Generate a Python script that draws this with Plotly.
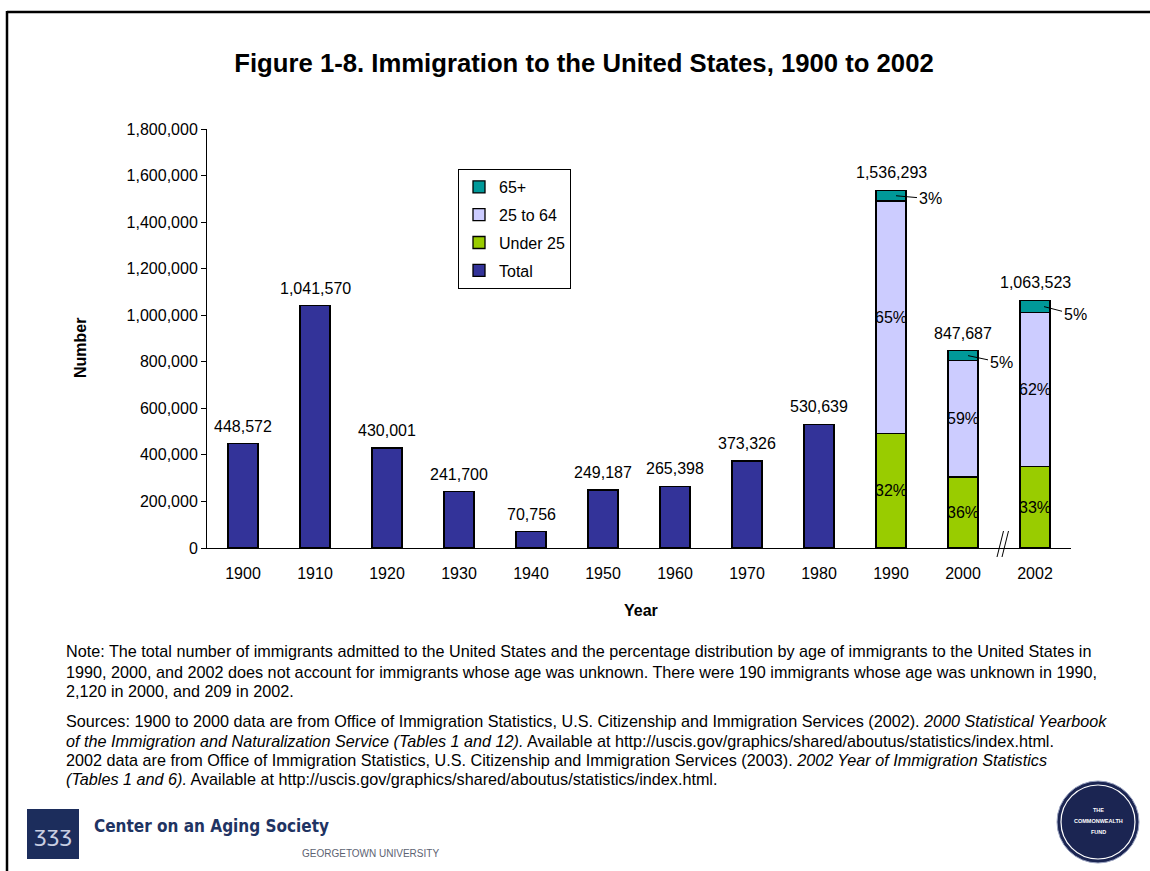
import plotly.graph_objects as go

# ---- data -------------------------------------------------------------
years = ["1900", "1910", "1920", "1930", "1940", "1950",
         "1960", "1970", "1980", "1990", "2000", "2002"]
totals = [448572, 1041570, 430001, 241700, 70756, 249187,
          265398, 373326, 530639, 1536293, 847687, 1063523]

# years with an age breakdown (percent of that year's total)
age_years = ["1990", "2000", "2002"]
pct_under25 = [32, 36, 33]
pct_25_64 = [65, 59, 62]
pct_65plus = [3, 5, 5]

y_ticks = [0, 200000, 400000, 600000, 800000, 1000000,
           1200000, 1400000, 1600000, 1800000]

# ---- page geometry (pixels) --------------------------------------------
W, H = 1150, 871
L, R, T, B = 207, 79, 129, 323
PW, PH = W - L - R, H - T - B


def px(x):
    return (x - L) / PW


def py(y):
    return (H - B - y) / PH


FONT = "Arial, Liberation Sans, sans-serif"
NARROW = "Liberation Sans Narrow, Arial Narrow, DejaVu Sans Condensed, Arial"
C_TOTAL = "#333399"
C_U25 = "#99CC00"
C_MID = "#CCCCFF"
C_65 = "#009999"
FS = 16

age_totals = [totals[years.index(y)] for y in age_years]
seg_u25 = [t * p / 100 for t, p in zip(age_totals, pct_under25)]
seg_mid = [t * p / 100 for t, p in zip(age_totals, pct_25_64)]
seg_65 = [t * p / 100 for t, p in zip(age_totals, pct_65plus)]

bar_line = dict(color="black", width=1.3)
txt_font = dict(size=FS, color="black", family=FONT)
fig = go.Figure()
fig.add_bar(x=years[:9], y=totals[:9], name="Total", legendrank=4,
            marker=dict(color=C_TOTAL, line=bar_line))
fig.add_bar(x=age_years, y=seg_u25, name="Under 25", legendrank=3,
            marker=dict(color=C_U25, line=bar_line),
            text=[f"{p}%" for p in pct_under25], textposition="inside",
            textangle=0, insidetextanchor="middle", constraintext="none",
            textfont=txt_font)
fig.add_bar(x=age_years, y=seg_mid, name="25 to 64", legendrank=2,
            marker=dict(color=C_MID, line=bar_line),
            text=[f"{p}%" for p in pct_25_64], textposition="inside",
            textangle=0, insidetextanchor="middle", constraintext="none",
            textfont=txt_font)
fig.add_bar(x=age_years, y=seg_65, name="65+", legendrank=1,
            marker=dict(color=C_65, line=bar_line), textposition="none")

# one legend group per trace so the group gap spaces the entries
for i, tr in enumerate(fig.data):
    tr.legendgroup = f"g{i}"

annotations = []

# total value above every bar
for i, tot in enumerate(totals):
    annotations.append(dict(x=i, y=tot, xref="x", yref="y", text=f"{tot:,}",
                            showarrow=False, xanchor="center", yanchor="bottom",
                            yshift=7, font=txt_font))

# 65+ shares with leader lines
leader = {"1990": (5, 34, 3), "2000": (5, 33, 7), "2002": (9, 31, 8)}
for yr, tot, p in zip(age_years, age_totals, pct_65plus):
    xs, ax, ay = leader[yr]
    annotations.append(dict(x=years.index(yr), y=tot * (1 - p / 200),
                            xref="x", yref="y", text=f"{p}%", showarrow=True,
                            arrowhead=0, arrowwidth=1, arrowcolor="black",
                            ax=ax, ay=ay, xshift=xs, font=txt_font))


def label(x, y, text, size, color="black", family=FONT, xanchor="center",
          angle=0, align="center", yanchor="middle"):
    annotations.append(dict(x=px(x), y=py(y), xref="paper", yref="paper",
                            text=text, showarrow=False, xanchor=xanchor,
                            yanchor=yanchor, align=align, textangle=angle,
                            font=dict(size=size, color=color, family=family)))


# axis titles
label(80, 348, "<b>Number</b>", FS, angle=-90)
label(641, 610, "<b>Year</b>", FS)

# notes and sources, one line at a time
note_lines = [
    "Note: The total number of immigrants admitted to the United States and the "
    "percentage distribution by age of immigrants to the United States in",
    "1990, 2000, and 2002 does not account for immigrants whose age was unknown. "
    "There were 190 immigrants whose age was unknown in 1990,",
    "2,120 in 2000, and 209 in 2002.",
]
source_lines = [
    "Sources: 1900 to 2000 data are from Office of Immigration Statistics, "
    "U.S. Citizenship and Immigration Services (2002). <i>2000 Statistical Yearbook</i>",
    "<i>of the Immigration and Naturalization Service (Tables 1 and 12).</i> "
    "Available at http://uscis.gov/graphics/shared/aboutus/statistics/index.html.",
    "2002 data are from Office of Immigration Statistics, U.S. Citizenship and "
    "Immigration Services (2003). <i>2002 Year of Immigration Statistics</i>",
    "<i>(Tables 1 and 6).</i> Available at "
    "http://uscis.gov/graphics/shared/aboutus/statistics/index.html.",
]
for line, yy in zip(note_lines, (651, 672, 691)):
    label(64, yy, line, 16.2, xanchor="left", align="left")
for line, yy in zip(source_lines, (721, 741, 760, 779)):
    label(64, yy, line, 16.2, xanchor="left", align="left")

# logos
label(53, 834, "ʒʒʒ", 22, color="#c9cfe2", family="DejaVu Sans")
label(92, 826, "<b>Center on an Aging Society</b>", 17, color="#1f3463",
      family=NARROW, xanchor="left")
label(300, 853, "GEORGETOWN UNIVERSITY", 10, color="#5d6372", xanchor="left")
for txt, yy in (("THE", 810), ("COMMONWEALTH", 821), ("FUND", 832)):
    label(1098, yy, f"<b>{txt}</b>", 5.5, color="white")

shapes = [
    # page frame (top and left edges)
    dict(type="line", xref="paper", yref="paper", x0=px(7), x1=px(W),
         y0=py(12), y1=py(12), line=dict(color="black", width=2.5)),
    dict(type="line", xref="paper", yref="paper", x0=px(7), x1=px(7),
         y0=py(11), y1=py(H), line=dict(color="black", width=2.5)),
    # axis break marks between 2000 and 2002
    dict(type="line", xref="paper", yref="paper", x0=px(997), x1=px(1003.5),
         y0=py(557), y1=py(531), line=dict(color="black", width=1)),
    dict(type="line", xref="paper", yref="paper", x0=px(1002), x1=px(1008.5),
         y0=py(557), y1=py(531), line=dict(color="black", width=1)),
    # Center on an Aging Society mark
    dict(type="rect", xref="paper", yref="paper", x0=px(27), x1=px(79),
         y0=py(859), y1=py(809), fillcolor="#1c2d5c", line=dict(width=0)),
    # Commonwealth Fund seal
    dict(type="circle", xref="paper", yref="paper", x0=px(1057), x1=px(1139),
         y0=py(863), y1=py(781), fillcolor="#1b2552",
         line=dict(color="#9aa3c0", width=1)),
    dict(type="circle", xref="paper", yref="paper", x0=px(1061), x1=px(1135),
         y0=py(859), y1=py(785), fillcolor="rgba(0,0,0,0)",
         line=dict(color="white", width=1.2)),
]

fig.update_layout(
    width=W, height=H,
    margin=dict(l=L, r=R, t=T, b=B, pad=0),
    paper_bgcolor="white", plot_bgcolor="white",
    barmode="stack", bargap=0.58,
    font=dict(family=FONT, color="black", size=FS),
    title=dict(text="<b>Figure 1-8. Immigration to the United States, 1900 to 2002</b>",
               xref="container", x=584 / W, xanchor="center",
               yref="container", y=1 - 63 / H, yanchor="middle",
               font=dict(size=25.7, color="black", family=FONT)),
    showlegend=True,
    legend=dict(x=px(458), y=py(169), xanchor="left", yanchor="top",
                traceorder="grouped", tracegroupgap=4,
                bgcolor="white", bordercolor="black", borderwidth=1,
                font=dict(size=FS, family=FONT, color="black"), itemwidth=30),
    xaxis=dict(type="category", categoryorder="array", categoryarray=years,
               range=[-0.5, len(years) - 0.5],
               showline=True, linecolor="black", linewidth=1, ticks="",
               showgrid=False, ticklabelstandoff=11, tickfont=txt_font),
    yaxis=dict(range=[0, 1800000], tickvals=y_ticks,
               ticktext=[f"{v:,}" for v in y_ticks],
               showline=True, linecolor="black", linewidth=1, ticks="outside",
               ticklen=5, tickcolor="black", showgrid=False, zeroline=False,
               tickfont=txt_font),
    annotations=annotations,
    shapes=shapes,
)

fig.write_html("out.html")
